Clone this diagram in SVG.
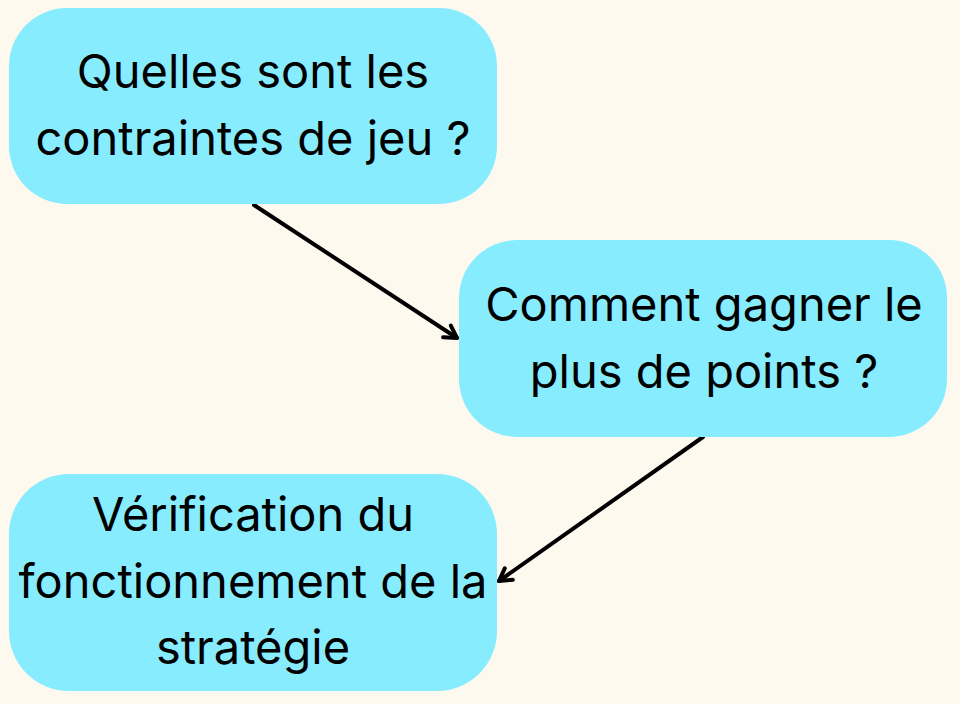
<svg xmlns="http://www.w3.org/2000/svg" width="960" height="704" viewBox="0 0 960 704">
<defs>
<style>
.box{fill:#88ecff;}
.t{font-family:Inter,"Open Sans","Liberation Sans",sans-serif;font-size:47px;fill:#000;text-anchor:middle;}
.c{stroke:#000;stroke-width:4;fill:none;stroke-linecap:round;}
</style>
<marker id="arrow" viewBox="0 0 20 20" refX="17" refY="10" markerWidth="20" markerHeight="20" markerUnits="userSpaceOnUse" orient="auto">
<path d="M5,3 L17,10 L5,17" fill="none" stroke="#000" stroke-width="4" stroke-linecap="round" stroke-linejoin="round"/>
</marker>
</defs>
<rect width="960" height="704" fill="#fef9ef"/>
<g id="connectors">
<line class="c" x1="254" y1="205" x2="457" y2="338" marker-end="url(#arrow)"/>
<line class="c" x1="703" y1="437" x2="499" y2="581" marker-end="url(#arrow)"/>
</g>
<g id="node1">
<rect class="box" x="9" y="8" width="488" height="196" rx="58"/>
<text class="t" x="253" y="88">Quelles sont les</text>
<text class="t" x="253" y="155">contraintes de jeu ?</text>
</g>
<g id="node2">
<rect class="box" x="459" y="240" width="488" height="197" rx="58"/>
<text class="t" x="704" y="321">Comment gagner le</text>
<text class="t" x="704" y="388">plus de points ?</text>
</g>
<g id="node3">
<rect class="box" x="9" y="474" width="488" height="217" rx="60"/>
<text class="t" x="253" y="531">Vérification du</text>
<text class="t" x="253" y="598">fonctionnement de la</text>
<text class="t" x="253" y="664">stratégie</text>
</g>
</svg>
